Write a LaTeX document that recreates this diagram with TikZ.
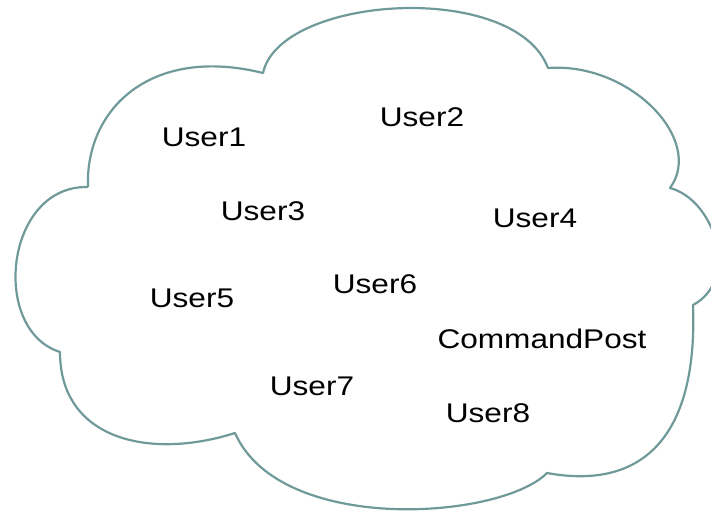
\documentclass[tikz,border=0pt]{standalone}
\usepackage{fontspec}
\setmainfont{Liberation Sans}
\usepackage{graphicx}
\definecolor{cloudline}{RGB}{112,154,154}
\begin{document}
\begin{tikzpicture}[x=1pt,y=-1pt,
  lbl/.style={inner sep=0pt,anchor=center,text=black,font=\fontsize{27}{32}\selectfont},
  cloudstroke/.style={draw=cloudline,line width=2.2pt,line join=round}]
\useasboundingbox (0,0) rectangle (711,515);
\fill[white] (0,0) rectangle (711,515);
% cusps of the cloud
\coordinate (p1) at (263,73);
\coordinate (p2) at (548,68);
\coordinate (p3) at (670,188);
\coordinate (p4) at (693,305);
\coordinate (p5) at (547,473);
\coordinate (p6) at (235,433);
\coordinate (p7) at (60,352);
\coordinate (p8) at (88,187);
\draw[cloudstroke]
  (p8) .. controls (85,110) and (150,45) .. (p1)
       .. controls (280,-5) and (515,-20) .. (p2)
       .. controls (630,62) and (705,140) .. (p3)
       .. controls (715,200) and (740,280) .. (p4)
       .. controls (698,440) and (640,490) .. (p5)
       .. controls (500,520) and (280,535) .. (p6)
       .. controls (150,460) and (60,440) .. (p7)
       .. controls (-10,330) and (5,185) .. (p8);
\node[lbl] (u1) at (204,137) {\scalebox{1.17}[1]{User1}};
\node[lbl] (u2) at (422,117) {\scalebox{1.17}[1]{User2}};
\node[lbl] (u3) at (263,211) {\scalebox{1.17}[1]{User3}};
\node[lbl] (u4) at (535,218) {\scalebox{1.17}[1]{User4}};
\node[lbl] (u5) at (192,298) {\scalebox{1.17}[1]{User5}};
\node[lbl] (u6) at (375,284) {\scalebox{1.17}[1]{User6}};
\node[lbl] (u7) at (312,386) {\scalebox{1.17}[1]{User7}};
\node[lbl] (cp) at (542,339) {\scalebox{1.17}[1]{CommandPost}};
\node[lbl] (u8) at (488,413) {\scalebox{1.17}[1]{User8}};
\end{tikzpicture}
\end{document}
